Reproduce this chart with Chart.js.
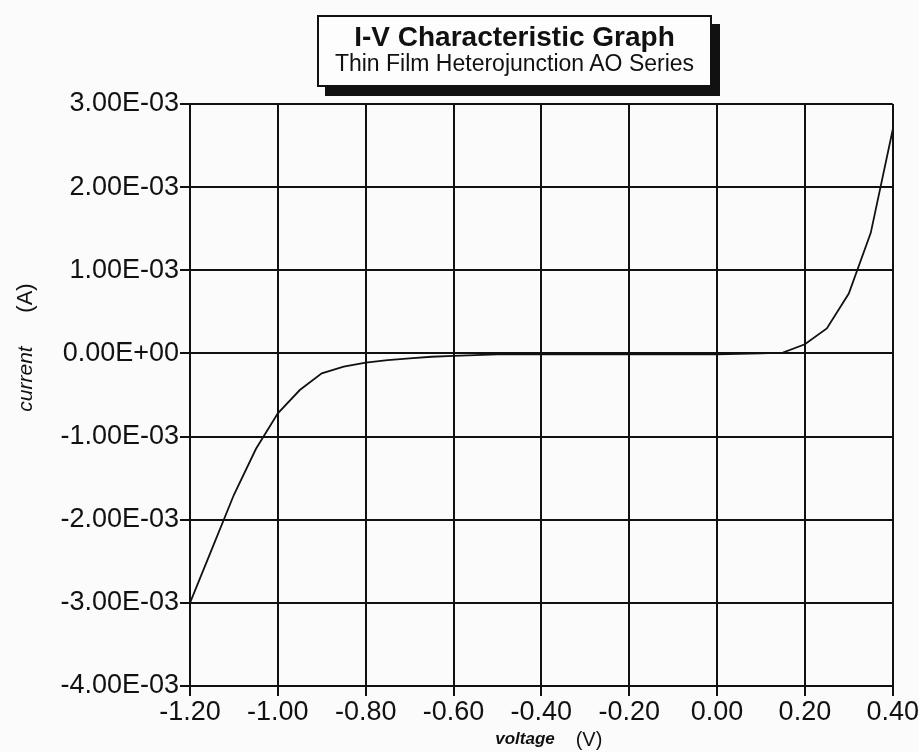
<!DOCTYPE html>
<html lang="en">
<head>
    <meta charset="UTF-8">
    <title>I-V Characteristic Graph</title>
    <style>
        html, body {
            margin: 0;
            padding: 0;
            background-color: #fbfbfb;
        }
        .wrap {
            position: relative;
            width: 919px;
            height: 752px;
            font-family: "Liberation Sans", Arial, Helvetica, sans-serif;
            color: #111;
        }
        #ivChart {
            position: absolute;
            left: 0;
            top: 0;
        }
        .title-box {
            position: absolute;
            left: 317px;
            top: 15px;
            width: 391px;
            height: 68px;
            border: 2px solid #111;
            background: #fdfdfd;
            box-shadow: 8px 9px 0 #111;
            text-align: center;
        }
        .title-box .main {
            font-weight: bold;
            font-size: 28px;
            line-height: 28px;
            margin-top: 6px;
        }
        .title-box .sub {
            font-size: 23px;
            line-height: 25px;
        }
        .y-lab {
            position: absolute;
            left: 25px;
            transform: translate(-50%, -50%) rotate(-90deg);
            white-space: nowrap;
        }
        .y-unit {
            top: 298px;
            font-size: 22px;
        }
        .y-name {
            top: 379px;
            font-size: 21px;
            font-style: italic;
        }
        .x-lab {
            position: absolute;
            top: 739px;
            transform: translate(-50%, -50%);
            white-space: nowrap;
        }
        .x-name {
            left: 525px;
            font-size: 17px;
            font-style: italic;
            font-weight: bold;
        }
        .x-unit {
            left: 589px;
            font-size: 20px;
        }
    </style>
</head>
<body>
    <div class="wrap">
        <canvas id="ivChart" width="919" height="752"></canvas>
        <div class="title-box">
            <div class="main">I-V Characteristic Graph</div>
            <div class="sub">Thin Film Heterojunction AO Series</div>
        </div>
        <div class="y-lab y-unit">(A)</div>
        <div class="y-lab y-name">current</div>
        <div class="x-lab x-name">voltage</div>
        <div class="x-lab x-unit">(V)</div>
    </div>

    <script src="https://cdn.jsdelivr.net/npm/chart.js"></script>
    <script>
        // 读图得到的数据 (V, A)
        const voltage = [
            -1.20, -1.15, -1.10, -1.05, -1.00, -0.95, -0.90, -0.85, -0.80, -0.75,
            -0.70, -0.65, -0.60, -0.55, -0.50, -0.40, -0.30, -0.20, -0.10, 0.00,
            0.10, 0.15, 0.20, 0.25, 0.30, 0.35, 0.40
        ];
        const current = [
            -3.00e-3, -2.35e-3, -1.70e-3, -1.15e-3, -0.72e-3, -0.44e-3, -0.24e-3, -0.16e-3, -0.11e-3, -0.08e-3,
            -0.06e-3, -0.04e-3, -0.03e-3, -0.02e-3, -0.01e-3, -0.01e-3, -0.01e-3, -0.01e-3, -0.01e-3, -0.01e-3,
            0.00e-3, 0.01e-3, 0.11e-3, 0.30e-3, 0.72e-3, 1.45e-3, 2.69e-3
        ];

        // 坐标轴刻度
        const xTicks = [-1.20, -1.00, -0.80, -0.60, -0.40, -0.20, 0.00, 0.20, 0.40];
        const yTicks = [-4.00e-3, -3.00e-3, -2.00e-3, -1.00e-3, 0, 1.00e-3, 2.00e-3, 3.00e-3];

        // 科学计数法格式: 3.00E-03
        function sci(v) {
            if (Math.abs(v) < 1e-12) v = 0;
            const parts = v.toExponential(2).split('e');
            const exp = parts[1];
            return parts[0] + 'E' + exp[0] + exp.slice(1).padStart(2, '0');
        }

        const ink = '#111';
        const tickFont = { family: '"Liberation Sans", Arial, sans-serif', size: 27 };

        const points = voltage.map((v, i) => ({ x: v, y: current[i] }));

        new Chart(document.getElementById('ivChart'), {
            type: 'scatter',
            data: {
                datasets: [{
                    data: points,
                    showLine: true,
                    borderColor: ink,
                    borderWidth: 1.8,
                    pointRadius: 0,
                    tension: 0,
                    fill: false
                }]
            },
            options: {
                responsive: false,
                animation: false,
                layout: { padding: { top: 104, right: 14, left: 0, bottom: 0 } },
                plugins: {
                    legend: { display: false },
                    tooltip: { enabled: false }
                },
                scales: {
                    x: {
                        type: 'linear',
                        min: xTicks[0],
                        max: xTicks[xTicks.length - 1],
                        afterBuildTicks: (scale) => { scale.ticks = xTicks.map(v => ({ value: v })); },
                        afterFit: (scale) => { scale.height = 66; },
                        grid: { color: ink, lineWidth: 2, tickLength: 10, drawTicks: true },
                        border: { color: ink, width: 2 },
                        ticks: {
                            color: ink,
                            font: tickFont,
                            padding: 0,
                            maxRotation: 0,
                            callback: (v) => (Math.abs(v) < 1e-9 ? 0 : v).toFixed(2)
                        }
                    },
                    y: {
                        type: 'linear',
                        min: yTicks[0],
                        max: yTicks[yTicks.length - 1],
                        afterBuildTicks: (scale) => { scale.ticks = yTicks.map(v => ({ value: v })); },
                        afterFit: (scale) => { scale.width = 190; },
                        grid: { color: ink, lineWidth: 2, tickLength: 10, drawTicks: true },
                        border: { color: ink, width: 2 },
                        ticks: {
                            color: ink,
                            font: tickFont,
                            padding: 1,
                            callback: (v) => sci(v)
                        }
                    }
                }
            }
        });
    </script>
</body>
</html>
